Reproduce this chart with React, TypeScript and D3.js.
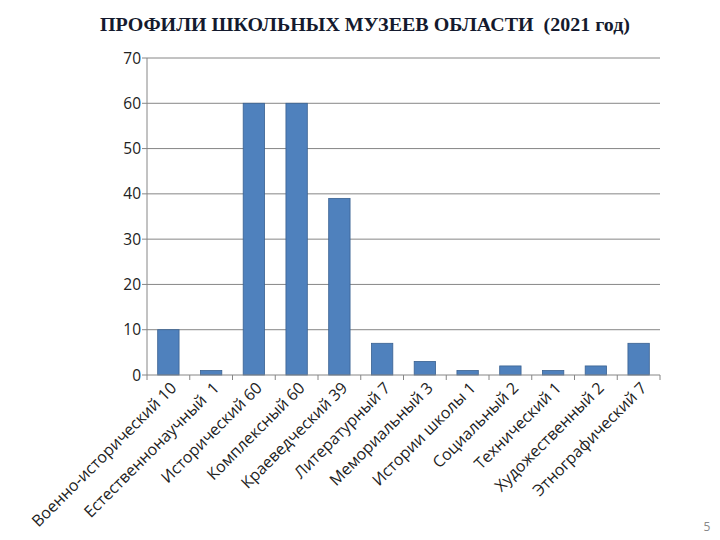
import React from "react";
import * as d3 from "d3";

const categories = [
  "Военно-исторический 10",
  "Естественнонаучный  1",
  "Исторический 60",
  "Комплексный 60",
  "Краеведческий 39",
  "Литературный 7",
  "Мемориальный 3",
  "Истории школы 1",
  "Социальный 2",
  "Технический 1",
  "Художественный 2",
  "Этнографический 7",
];
const values = [10, 1, 60, 60, 39, 7, 3, 1, 2, 1, 2, 7];
const yTicks = [0, 10, 20, 30, 40, 50, 60, 70];
const title = "ПРОФИЛИ ШКОЛЬНЫХ МУЗЕЕВ ОБЛАСТИ  (2021 год)";

export default function App() {
  const W = 720, H = 540;
  const left = 147, right = 660, top = 58, bottom = 375;
  const x = d3.scaleBand<number>().domain(d3.range(categories.length)).range([left, right]).paddingInner(0.5).paddingOuter(0.25);
  const y = d3.scaleLinear().domain([0, 70]).range([bottom, top]);
  const step = (right - left) / categories.length;
  const font = "'Open Sans', 'Liberation Sans', sans-serif";
  return (
    <svg width={W} height={H} style={{ position: "absolute", left: 0, top: 0, background: "#fff" }}>
      <text x={365} y={31} textAnchor="middle" fontFamily="'Liberation Serif', 'Times New Roman', serif" fontWeight="bold" fontSize={19.5} fill="#141a2e" style={{ whiteSpace: "pre" }} textLength={530} lengthAdjust="spacingAndGlyphs">
        {title}
      </text>
      {yTicks.map((t) => (
        <g key={t}>
          {t > 0 && <line x1={left} x2={right} y1={y(t)} y2={y(t)} stroke="#868686" strokeWidth={1} />}
          <line x1={left - 5} x2={left} y1={y(t)} y2={y(t)} stroke="#868686" strokeWidth={1} />
          <text x={left - 6} y={y(t)} dy="0.36em" textAnchor="end" fontFamily={font} fontSize={15.5} fill="#222">{t}</text>
        </g>
      ))}
      <line x1={left} x2={left} y1={top} y2={bottom} stroke="#868686" strokeWidth={1} />
      {values.map((v, i) => (
        <rect key={i} x={x(i)} y={y(v)} width={x.bandwidth()} height={bottom - y(v)} fill="#4F81BD" stroke="#3A6191" strokeWidth={0.8} />
      ))}
      <line x1={left} x2={right} y1={bottom} y2={bottom} stroke="#868686" strokeWidth={1} />
      {d3.range(categories.length + 1).map((i) => (
        <line key={i} x1={left + i * step} x2={left + i * step} y1={bottom} y2={bottom + 5} stroke="#868686" strokeWidth={1} />
      ))}
      {categories.map((c, i) => {
        const cx = (x(i) as number) + x.bandwidth() / 2 + 9;
        const cy = bottom + 14;
        return (
          <text key={i} x={cx} y={cy} transform={`rotate(-45 ${cx} ${cy})`} textAnchor="end" fontFamily={font} fontSize={16} fill="#222" style={{ whiteSpace: "pre" }}>
            {c}
          </text>
        );
      })}
      <text x={707} y={531} textAnchor="middle" fontFamily={font} fontSize={12} fill="#888">5</text>
    </svg>
  );
}
